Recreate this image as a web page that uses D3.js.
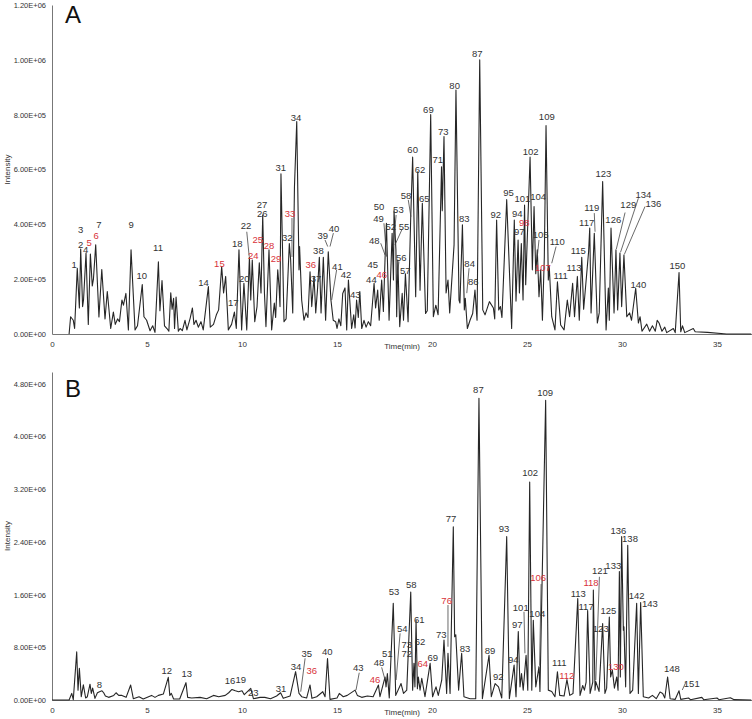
<!DOCTYPE html>
<html lang="en">
<head>
  <meta charset="utf-8">
  <title>Chromatograms A and B</title>
  <script src="https://cdnjs.cloudflare.com/ajax/libs/d3/7.8.5/d3.min.js"></script>
  <style>
  body { margin: 0; background: #fff; }
  svg { display: block; font-family: "Liberation Sans", Arial, sans-serif; }
  .tick text { fill: #333; }
  .pk { font-size: 9.5px; fill: #333; }
  .pk.red { fill: #d8323a; }
  </style>
</head>
<body>
<svg id="chart"></svg>
<script>
// retention time (min) / intensity (x1e5)
var traceA = [
  [0.9,0],[0.98,0.63],[1.12,0.5],[1.19,0.2],[1.33,2.4],[1.44,0.95],[1.51,3.1],[1.61,1.0],[1.66,1.25],
  [1.79,2.95],[1.91,0.35],[2.02,2.92],[2.12,1.75],[2.18,2.0],[2.3,3.25],[2.47,0.62],[2.62,2.35],[2.79,0.55],
  [2.91,1.55],[3.09,0.2],[3.23,0.8],[3.33,0.35],[3.45,0.55],[3.55,0.45],[3.68,1.24],[3.76,1.05],[3.89,1.48],
  [4.02,0.15],[4.16,3.07],[4.37,0.15],[4.5,0.3],[4.75,1.8],[4.84,0.63],[4.98,0.5],[5.16,0.12],[5.3,0.3],
  [5.42,0.06],[5.6,2.63],[5.68,0.85],[5.79,1.95],[5.92,0.3],[6.05,0.2],[6.15,0.1],[6.25,1.5],[6.32,0.9],
  [6.4,1.3],[6.45,0.2],[6.53,1.35],[6.65,0.1],[6.74,0.2],[6.86,0.12],[7.0,0.5],[7.1,0.15],[7.27,0.57],
  [7.39,0.95],[7.47,0.35],[7.58,0.5],[7.7,0.25],[7.84,0.45],[7.96,0.15],[8.23,1.73],[8.33,0.25],[8.5,0.35],
  [8.65,0.7],[8.77,0.88],[8.93,2.46],[9.03,1.5],[9.14,2.1],[9.28,0.15],[9.45,0.35],[9.6,0.8],[9.7,0.2],
  [9.84,3.07],[9.98,0.15],[10.1,1.85],[10.25,0.15],[10.39,2.8],[10.46,1.24],[10.54,2.7],[10.67,0.45],
  [10.79,1.0],[10.91,2.6],[11.0,1.5],[11.09,4.34],[11.18,1.5],[11.26,0.27],[11.42,3.07],[11.56,0.15],
  [11.7,1.13],[11.77,0.6],[11.88,2.34],[11.95,1.73],[12.0,1.0],[12.05,5.84],[12.21,0.45],[12.32,0.55],
  [12.49,3.3],[12.56,2.7],[12.67,0.77],[12.76,5.37],[12.88,7.75],[13.0,2.34],[13.03,3.19],[13.14,1.24],
  [13.26,0.5],[13.37,0.77],[13.47,0.6],[13.58,2.27],[13.67,1.0],[13.79,2.1],[13.88,0.77],[13.98,1.7],
  [14.07,2.8],[14.16,0.77],[14.28,2.8],[14.4,0.5],[14.54,3.0],[14.68,1.24],[14.8,0.5],[14.93,0.45],
  [15.0,0.2],[15.1,0.55],[15.2,0.3],[15.3,1.48],[15.42,1.68],[15.51,0.15],[15.6,1.97],[15.77,0.2],
  [15.88,0.7],[15.95,0.22],[16.03,1.24],[16.12,0.6],[16.2,1.55],[16.3,0.2],[16.42,0.5],[16.53,0.25],
  [16.65,0.45],[16.77,0.3],[16.95,1.85],[17.03,0.95],[17.14,1.6],[17.22,0.5],[17.35,1.97],[17.44,0.82],
  [17.53,2.8],[17.6,4.04],[17.74,0.5],[17.9,3.67],[17.97,1.97],[18.0,4.5],[18.1,3.07],[18.14,0.63],
  [18.2,2.7],[18.3,0.27],[18.43,1.48],[18.5,0.5],[18.6,2.2],[18.74,0.45],[18.88,4.28],[18.98,6.45],
  [19.14,1.36],[19.25,5.92],[19.37,1.6],[19.49,4.77],[19.66,0.75],[19.75,0.85],[19.93,8.0],[20.07,0.63],
  [20.2,1.05],[20.32,0.7],[20.5,6.1],[20.54,4.5],[20.63,7.2],[20.74,1.5],[20.84,1.97],[20.93,0.77],
  [21.16,3.25],[21.26,8.9],[21.42,1.24],[21.47,1.13],[21.6,3.98],[21.7,0.88],[21.75,1.3],[21.86,0.2],
  [22.0,0.5],[22.14,0.75],[22.26,1.6],[22.37,0.5],[22.51,10.0],[22.67,0.88],[22.79,0.7],[23.02,1.18],
  [23.23,0.95],[23.3,0.55],[23.4,4.16],[23.51,0.88],[23.6,1.0],[23.68,0.6],[23.93,4.9],[24.19,0.2],
  [24.33,4.16],[24.42,1.2],[24.53,3.43],[24.6,1.5],[24.7,3.3],[24.79,1.24],[24.87,4.7],[24.93,1.8],
  [25.16,6.45],[25.28,2.34],[25.37,4.65],[25.46,2.2],[25.54,3.07],[25.63,1.36],[25.72,2.34],[25.81,0.5],
  [25.91,2.8],[26.0,7.6],[26.12,1.97],[26.17,2.46],[26.3,0.63],[26.47,0.15],[26.6,1.9],[26.77,0.33],
  [26.95,0.15],[27.12,1.24],[27.24,0.63],[27.4,1.85],[27.5,0.63],[27.65,2.1],[27.75,0.5],[27.88,2.8],
  [27.98,0.9],[28.24,3.0],[28.3,3.86],[28.37,0.77],[28.54,3.67],[28.7,0.4],[28.8,0.77],[28.98,5.56],
  [29.16,0.15],[29.28,1.68],[29.33,0.5],[29.42,3.86],[29.58,0.77],[29.68,3.07],[29.77,0.88],[29.89,2.95],
  [29.98,1.0],[30.1,2.88],[30.25,0.63],[30.4,0.77],[30.5,0.5],[30.72,1.67],[30.86,0.4],[30.95,0.63],
  [31.05,0.1],[31.3,0.36],[31.45,0.1],[31.6,0.3],[31.75,0.1],[31.85,0.5],[31.95,0.4],[32.1,0.1],
  [32.25,0.25],[32.35,0.05],[32.7,0.2],[32.8,0.05],[33.0,2.24],[33.09,0.08],[33.18,0.3],[33.3,0.05],
  [33.75,0.2],[33.85,0.08],[34.5,0.06],[35.5,0],[36.8,0]
];

var traceB = [
  [0,0],[0.9,0],[1.04,1.0],[1.12,0.05],[1.3,7.3],[1.37,1.5],[1.44,4.8],[1.54,0.5],[1.65,2.3],[1.77,0.3],
  [1.86,0.5],[2.0,2.4],[2.07,1.0],[2.14,1.8],[2.26,0.25],[2.39,1.1],[2.5,1.26],[2.63,1.4],[2.72,1.1],
  [2.81,0.6],[2.98,0.4],[3.25,0.7],[3.37,1.1],[3.51,0.7],[3.68,0.7],[3.9,0.4],[4.14,2.28],[4.28,0.2],
  [4.58,0.5],[4.8,0.15],[5.24,0.7],[5.42,0.4],[5.6,0.7],[5.86,0.9],[6.12,3.44],[6.2,0.7],[6.28,1.0],
  [6.4,0.15],[6.72,0.15],[7.05,2.63],[7.14,0.4],[7.35,0.3],[7.79,0.4],[8.14,0.2],[8.5,0.7],[8.77,0.5],
  [9.12,0.7],[9.3,1.1],[9.47,1.6],[9.65,1.4],[9.82,1.26],[10.0,1.4],[10.12,0.8],[10.46,1.77],[10.6,0.2],
  [10.95,0.4],[11.2,0.4],[11.5,0.2],[11.82,0.6],[12.03,1.1],[12.17,0.25],[12.53,0.6],[12.82,4.3],
  [13.0,1.0],[13.14,0.5],[13.4,0.3],[13.58,2.28],[13.68,0.25],[13.93,0.5],[14.25,1.26],[14.37,0.5],
  [14.5,6.3],[14.63,0.1],[15.0,0.3],[15.12,1.0],[15.33,0.5],[15.54,0.7],[15.95,1.5],[16.07,0.7],
  [16.3,0.4],[16.6,0.6],[16.9,0.5],[17.18,2.28],[17.26,0.5],[17.53,3.5],[17.58,2.0],[17.65,4.0],
  [17.75,0.3],[17.96,14.7],[18.09,0.7],[18.37,2.5],[18.5,1.0],[18.67,1.5],[18.88,16.4],[18.98,1.5],
  [19.05,5.56],[19.1,2.0],[19.16,12.1],[19.23,1.7],[19.28,3.5],[19.37,1.5],[19.46,3.3],[19.63,0.5],
  [19.9,5.56],[20.03,0.5],[20.21,2.0],[20.33,0.7],[20.51,3.0],[20.63,9.1],[20.77,1.0],[20.84,7.1],
  [20.95,1.0],[21.12,26.3],[21.19,9.6],[21.25,9.9],[21.4,1.5],[21.56,7.1],[21.68,0.5],[22.0,0.2],
  [22.3,0.2],[22.47,45.8],[22.65,0.2],[23.0,6.8],[23.12,0.5],[23.32,2.5],[23.5,2.0],[23.67,0.3],
  [23.93,24.8],[24.07,0.2],[24.32,5.3],[24.42,0.5],[24.54,10.4],[24.63,2.0],[24.71,4.0],[24.8,1.5],
  [24.95,6.8],[25.04,1.5],[25.14,33.1],[25.25,1.5],[25.33,12.1],[25.46,2.0],[25.63,5.06],[25.68,1.3],
  [25.98,45.5],[26.12,1.5],[26.3,1.3],[26.47,0.5],[26.6,4.3],[26.72,0.7],[26.95,0.6],[27.1,3.1],
  [27.25,0.7],[27.42,1.0],[27.67,15.4],[27.79,0.7],[27.93,2.2],[28.02,1.5],[28.11,2.7],[28.19,13.6],
  [28.32,1.0],[28.46,2.7],[28.49,16.7],[28.58,1.5],[28.62,2.8],[28.79,1.3],[28.98,11.6],[29.1,1.0],
  [29.19,1.8],[29.33,12.6],[29.4,3.5],[29.49,4.55],[29.6,1.8],[29.72,3.5],[29.79,1.5],[29.86,19.5],
  [29.91,3.5],[29.98,24.8],[30.07,10.6],[30.1,11.1],[30.19,2.0],[30.3,23.5],[30.42,1.0],[30.56,1.5],
  [30.77,14.7],[30.86,1.0],[30.98,14.8],[31.12,0.5],[31.4,0.3],[31.6,0.7],[31.8,0.2],[32.0,1.2],
  [32.14,1.0],[32.25,0.3],[32.4,3.5],[32.53,0.2],[32.8,0.1],[33.0,1.4],[33.09,0.1],[33.5,0.3],
  [33.6,0.05],[34.2,0.4],[34.3,0.05],[35.0,0.3],[35.1,0.05],[35.7,0.35],[35.9,0.05],[36.8,0]
];

// peak labels: [text, time, intensity, red]
var labelsA = [
  ["1",1.16,2.52],["2",1.51,3.27],["3",1.51,3.82],["4",1.77,3.09],["5",1.96,3.33,1],["6",2.33,3.58,1],
  ["7",2.47,3.98],["9",4.16,3.98],["10",4.72,2.12],["11",5.58,3.15],["14",7.98,1.87],["15",8.81,2.55,1],
  ["17",9.54,1.14],["18",9.75,3.28],["20",10.12,2.0],["22",10.21,3.96],["24",10.59,2.85,1],
  ["25",10.83,3.43,1],["26",11.07,4.4],["27",11.05,4.73],["28",11.42,3.22,1],["29",11.79,2.73,1],
  ["31",12.04,6.08],["32",12.38,3.51],["33",12.53,4.38,1],["34",12.84,7.89],["36",13.62,2.52,1],
  ["37",13.89,2.03],["38",14.02,3.04],["39",14.25,3.6],["40",14.84,3.83],["41",15.02,2.46],
  ["42",15.47,2.15],["43",15.96,1.45],["44",16.81,1.97],["45",16.88,2.53],["46",17.35,2.18,1],
  ["48",16.96,3.42],["49",17.19,4.22],["50",17.21,4.65],["52",17.83,3.92],["53",18.23,4.53],
  ["55",18.53,3.93],["56",18.38,2.8],["57",18.59,2.31],["58",18.63,5.04],["60",18.98,6.72],
  ["62",19.37,6.01],["65",19.59,4.95],["69",19.81,8.18],["71",20.3,6.35],["73",20.59,7.38],
  ["80",21.19,9.05],["83",21.7,4.19],["84",21.98,2.58],["86",22.17,1.91],["87",22.38,10.24],
  ["92",23.35,4.34],["94",24.49,4.4],["95",24.03,5.16],["97",24.59,3.73],["98",24.86,4.06,1],
  ["101",24.76,4.92],["102",25.19,6.65],["104",25.59,5.01],["105",25.72,3.61],["107",25.83,2.42,1],
  ["109",26.04,7.91],["110",26.59,3.37],["111",26.77,2.12],["113",27.47,2.43],["115",27.7,3.04],
  ["117",28.14,4.06],["119",28.41,4.59],["123",29.02,5.86],["126",29.54,4.16],["129",30.33,4.71],
  ["134",31.12,5.1],["136",31.65,4.77],["140",30.86,1.79],["150",32.91,2.49]
];

var labelsB = [
  ["8",2.49,2.28],["12",6.04,4.45],["13",7.09,3.95],["16",9.37,2.93],["19",9.93,3.03],["23",10.59,1.11],
  ["31",12.05,1.78],["34",12.84,5.05],["35",13.41,7.09],["36",13.67,4.45,1],["40",14.49,7.33],
  ["43",16.12,4.9],["46",17.0,3.03,1],["48",17.21,5.66],["51",17.65,6.98],["53",18.0,16.43],
  ["54",18.44,10.77],["58",18.91,17.45],["61",19.33,12.25],["73",18.67,8.45],["72",18.67,7.09],
  ["62",19.37,8.85],["64",19.51,5.46,1],["69",20.04,6.48],["73",20.49,9.97],["76",20.77,15.02,1],
  ["77",21.0,27.57],["83",21.74,7.85],["87",22.44,47.15],["89",23.05,7.48],["92",23.49,3.54],
  ["93",23.79,26.05],["94",24.28,6.07],["97",24.49,11.38],["101",24.67,14.07],["102",25.16,34.49],
  ["104",25.54,13.05],["106",25.59,18.62,1],["109",25.95,46.63],["111",26.7,5.72],["112",27.09,3.69,1],
  ["113",27.7,16.19],["117",28.11,14.16],["118",28.37,17.86,1],["121",28.84,19.62],["123",28.88,10.88],
  ["125",29.28,13.51],["130",29.68,5.05,1],["133",29.54,20.33],["136",29.81,25.69],["138",30.42,24.54],
  ["142",30.77,15.83],["143",31.47,14.67],["148",32.62,4.81],["151",33.67,2.53]
];

// leader lines: [t1, v1, t2, v2]
var leadersA = [
  [10.25,3.73,10.38,2.82],[12.63,4.23,12.63,2.81],[14.37,3.43,14.51,3.19],[14.81,3.68,14.63,3.19],
  [14.98,2.34,14.72,1.24],[17.3,3.31,17.53,2.88],[17.47,4.04,17.61,2.82],[18.11,4.34,17.96,3.19],
  [18.41,3.8,18.05,3.25],[18.26,2.64,18.14,1.97],[18.75,4.89,18.89,4.28],[21.95,2.4,21.83,1.49],
  [25.63,3.43,25.54,2.82],[26.53,3.19,26.3,2.58],[28.54,4.41,28.58,3.73],[30.16,4.43,29.7,3.1],
  [30.86,4.95,29.92,2.98],[31.21,4.65,30.12,2.9]
];

var leadersB = [
  [13.32,6.33,13.09,1.26],[16.17,4.14,16.0,1.52],[17.35,4.96,17.53,3.03],[18.32,10.12,18.11,3.03],
  [20.84,14.42,20.84,8.09],[24.84,13.4,24.89,7.09],[25.74,17.6,25.66,5.2],[28.81,18.71,28.62,3.03],
  [33.37,2.78,33.17,1.52]
];

var xTicks = [0, 5, 10, 15, 20, 25, 30, 35];
var yTicksA = [0, 2, 4, 6, 8, 10, 12];
var yTicksB = [0, 8, 16, 24, 32, 40, 48];

var W = 752, H = 719;
var svg = d3.select("#chart").attr("width", W).attr("height", H);

// intensity is kept in units of 1e5
function sci(d) {
  var v = d * 1e5;
  if (v === 0) return "0.00E+00";
  var e = Math.floor(Math.log10(v) + 1e-9);
  var m = v / Math.pow(10, e);
  return m.toFixed(2) + "E+" + (e < 10 ? "0" + e : e);
}

function panel(o) {
  var x = d3.scaleLinear().domain([0, 36.84]).range([52, 752]);
  var y = d3.scaleLinear().domain([0, o.ymax]).range([o.bottom, o.top]);
  var g = svg.append("g");

  var ya = g.append("g")
    .attr("transform", "translate(52,0)")
    .call(d3.axisLeft(y).tickValues(o.yTicks).tickFormat(sci).tickSize(0).tickPadding(6));
  ya.select(".domain").attr("stroke", "#777");
  ya.selectAll("text").style("font-size", "7.5px");

  var xa = g.append("g")
    .attr("transform", "translate(0," + o.bottom + ")")
    .call(d3.axisBottom(x).tickValues(xTicks).tickFormat(d3.format("d")).tickSize(0).tickPadding(7));
  xa.select(".domain").attr("stroke", "#777");
  xa.selectAll("text").style("font-size", "8px");

  g.append("text")
    .attr("transform", "translate(10," + ((o.top + o.bottom) / 2) + ") rotate(-90)")
    .attr("text-anchor", "middle")
    .style("font-size", "8px").style("fill", "#333")
    .text("Intensity");

  g.append("text")
    .attr("x", 402).attr("y", o.bottom + 15)
    .attr("text-anchor", "middle")
    .style("font-size", "8px").style("fill", "#333")
    .text("Time(min)");

  g.append("text")
    .attr("x", 65).attr("y", o.letterY)
    .style("font-size", "24px").style("fill", "#111")
    .text(o.letter);

  var line = d3.line().x(function(d) { return x(d[0]); }).y(function(d) { return y(d[1]); });
  g.append("path")
    .datum(o.trace)
    .attr("d", line)
    .attr("fill", "none")
    .attr("stroke", "#262626")
    .attr("stroke-width", 1.1)
    .attr("stroke-linejoin", "round");

  g.selectAll(".ld")
    .data(o.leaders)
    .enter().append("line")
    .attr("x1", function(d) { return x(d[0]); })
    .attr("y1", function(d) { return y(d[1]); })
    .attr("x2", function(d) { return x(d[2]); })
    .attr("y2", function(d) { return y(d[3]); })
    .attr("stroke", "#444").attr("stroke-width", 0.8);

  g.selectAll(".pk")
    .data(o.labels)
    .enter().append("text")
    .attr("class", function(d) { return d[3] ? "pk red" : "pk"; })
    .attr("x", function(d) { return x(d[1]); })
    .attr("y", function(d) { return y(d[2]); })
    .attr("dy", "0.35em")
    .attr("text-anchor", "middle")
    .text(function(d) { return d[0]; });
}

panel({ trace: traceA, labels: labelsA, leaders: leadersA, yTicks: yTicksA,
        ymax: 12, top: 5, bottom: 334, letter: "A", letterY: 23 });
panel({ trace: traceB, labels: labelsB, leaders: leadersB, yTicks: yTicksB,
        ymax: 49.8, top: 372, bottom: 700, letter: "B", letterY: 397 });
</script>
</body>
</html>
